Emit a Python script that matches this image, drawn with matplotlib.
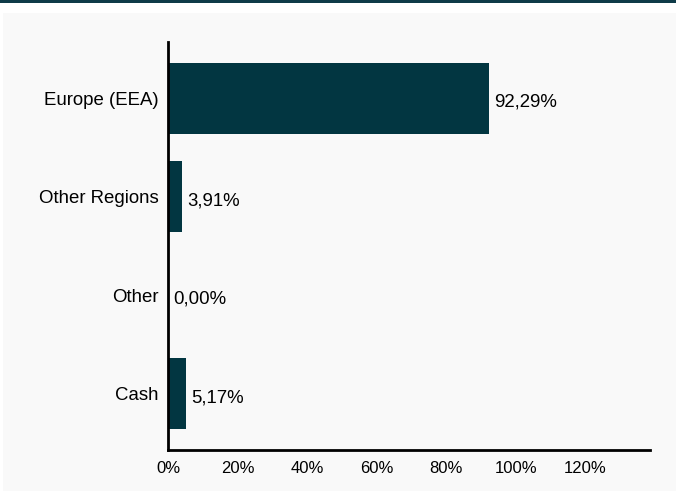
import matplotlib
matplotlib.use("Agg")
import matplotlib.pyplot as plt
from matplotlib.patches import Rectangle

categories = ["Europe (EEA)", "Other Regions", "Other", "Cash"]
values = [92.29, 3.91, 0.00, 5.17]
value_labels = ["92,29%", "3,91%", "0,00%", "5,17%"]
xticks = [0, 20, 40, 60, 80, 100, 120]
xtick_labels = ["0%", "20%", "40%", "60%", "80%", "100%", "120%"]

plt.rcParams['font.family'] = ['Liberation Sans', 'DejaVu Sans']

fig = plt.figure(figsize=(6.76, 4.91), dpi=100)
fig.patch.set_facecolor("white")
# gray panel
fig.add_artist(Rectangle((3/676, 0), 1 - 3/676, (491-13)/491, transform=fig.transFigure,
                         facecolor="#f9f9f9", edgecolor="none", zorder=0))
# top line
fig.add_artist(Rectangle((0, (491-2.5)/491), 1, 2.5/491, transform=fig.transFigure,
                         facecolor="#0f3b48", edgecolor="none", zorder=0))

ax = fig.add_axes([168/676, (491-450)/491, (650-168)/676, (450-42)/491])
ax.set_facecolor("none")
color = "#023641"
ypos = list(range(len(categories)))
ax.barh(ypos, values, height=0.72, color=color)
for y, v, lab in zip(ypos, values, value_labels):
    ax.text(v + 1.5, y + 0.04, lab, va="center", ha="left", fontsize=13.4, color="#000000")

ax.set_yticks(ypos)
ax.set_yticklabels(categories, fontsize=13.4, color="#000000")
ax.set_xticks(xticks)
ax.set_xticklabels(xtick_labels, fontsize=12, color="#000000")
ax.set_xlim(0, 138.6)
ax.set_ylim(3.57, -0.57)
ax.tick_params(axis="both", length=0)
ax.tick_params(axis="y", pad=7)
ax.tick_params(axis="x", pad=8)
for s in ["top", "right"]:
    ax.spines[s].set_visible(False)
for s in ["left", "bottom"]:
    ax.spines[s].set_linewidth(2)
    ax.spines[s].set_color("black")

fig.savefig("out.png", dpi=100, facecolor=fig.get_facecolor())
